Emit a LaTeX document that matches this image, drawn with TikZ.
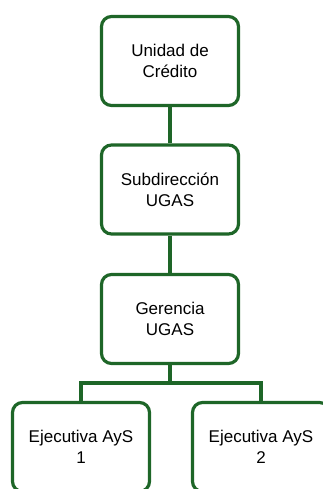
\documentclass[tikz,border=0pt]{standalone}
\usepackage{fontspec}
\setmainfont{Liberation Sans}
\definecolor{boxgreen}{RGB}{30,102,40}
\begin{document}
\begin{tikzpicture}[x=1pt,y=1pt,
  orgbox/.style={draw=boxgreen, line width=3.2pt, fill=white, rounded corners=10pt,
    minimum width=137pt, minimum height=89pt, inner sep=0pt, align=center,
    font=\fontsize{17}{21}\selectfont},
  link/.style={draw=boxgreen, line width=3.2pt}]
\useasboundingbox (0,0) rectangle (323,-489);
\clip (0,0) rectangle (323,-489);
\node[orgbox] (uc) at (170,-61) {Unidad de\\Crédito};
\node[orgbox] (su) at (170,-189.5) {Subdirección\\UGAS};
\node[orgbox] (ge) at (170,-319) {Gerencia\\UGAS};
\node[orgbox] (e1) at (81,-447) {Ejecutiva AyS\\1};
\node[orgbox] (e2) at (261,-447) {Ejecutiva AyS\\2};
\coordinate (j) at (170,-383);
\draw[link] (uc.south) -- (su.north);
\draw[link] (su.south) -- (ge.north);
\draw[link] (ge.south) -- (j);
\draw[link] (e1.north) |- (j) -| (e2.north);
\end{tikzpicture}
\end{document}
